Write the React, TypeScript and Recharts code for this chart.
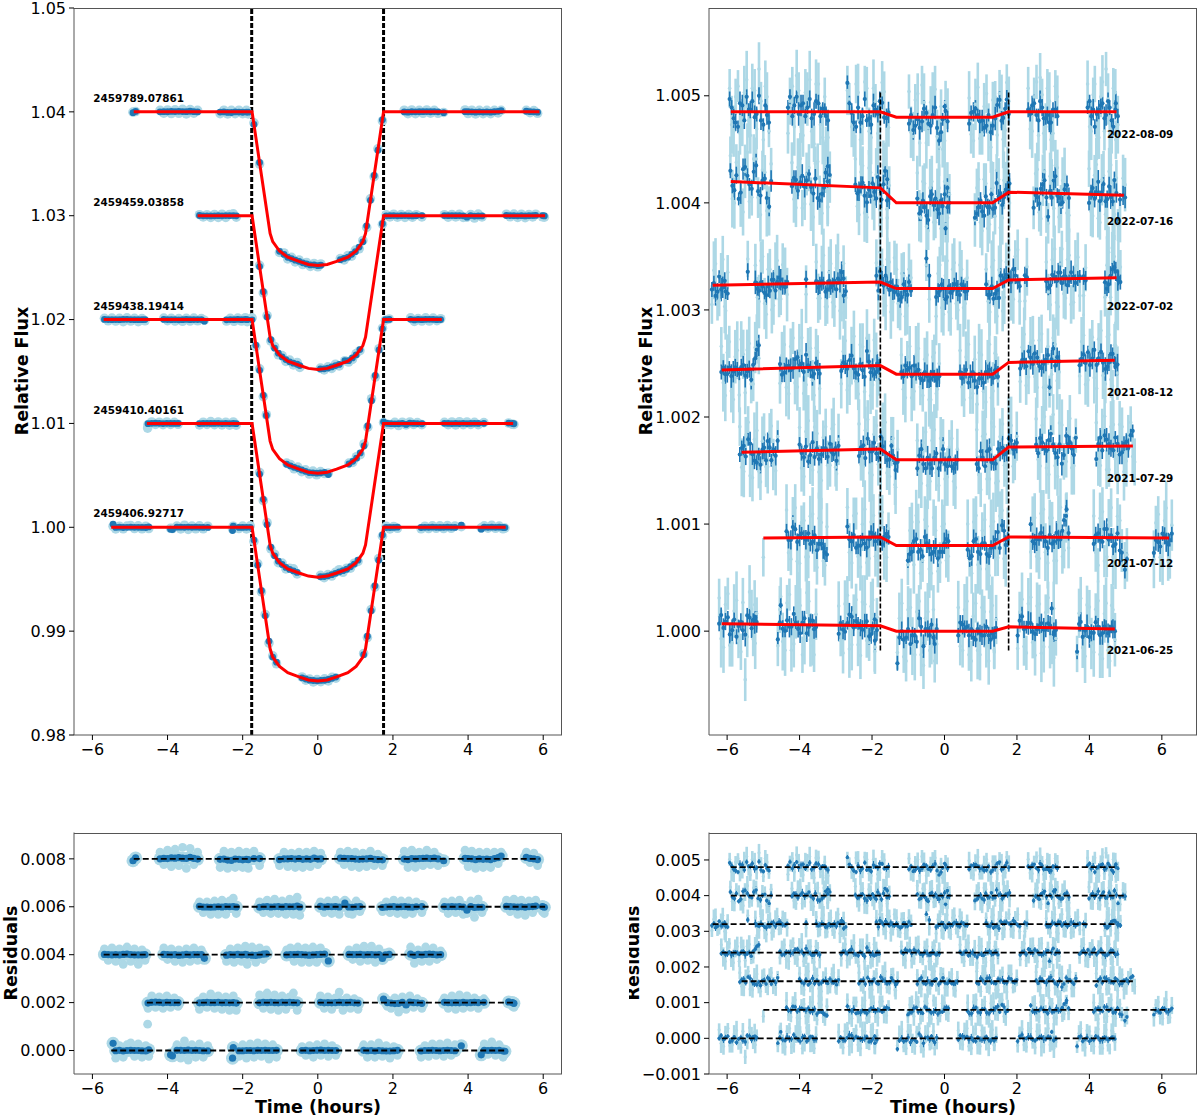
// Transit light curves: flux and residual panels
import { ComposedChart, XAxis, YAxis, Scatter, ErrorBar, ReferenceLine, ReferenceDot } from 'recharts';

const BLUE = '#1f77b4';
const LIGHT = '#add8e6';
const FONT = '"DejaVu Sans", sans-serif';

const xTicks = [-6, -4, -2, 0, 2, 4, 6];
const leftFluxTicks = [0.98, 0.99, 1.0, 1.01, 1.02, 1.03, 1.04, 1.05];
const leftResidTicks = [0, 0.002, 0.004, 0.006, 0.008];
const rightFluxTicks = [1.0, 1.001, 1.002, 1.003, 1.004, 1.005];
const rightResidTicks = [-0.001, 0, 0.001, 0.002, 0.003, 0.004, 0.005];

const leftDates = ['2459789.07861', '2459459.03858', '2459438.19414', '2459410.40161', '2459406.92717'];
const leftFluxLevels = [1.04, 1.03, 1.02, 1.01, 1.0];
const leftResidLevels = [0.008, 0.006, 0.004, 0.002, 0];
const leftSpans = [[-4.9, 5.9], [-3.2, 6.05], [-5.7, 3.3], [-4.55, 5.2], [-5.5, 5.0]];

const depthTimes = [-1.75, -1.5, -1.27, -1.2, -1.02, -0.8, -0.5, -0.25, 0, 0.25, 0.5, 0.8, 1.02, 1.2, 1.27, 1.5, 1.75];
const depthValues = [0, -0.0061, -0.0117, -0.0125, -0.0134, -0.014, -0.0144, -0.0147, -0.0148, -0.0147, -0.0144, -0.014, -0.0134, -0.0125, -0.0117, -0.0061, 0];

// [time, binned residual (1e-5), unbinned residual (2e-5)]
const left0 = [
  [-4.92,-8,-3],[-4.85,4,3],
  [-4.2,0,14],[-4.1,2,-12],[-4.0,1,18],[-3.9,4,-16],[-3.8,3,20],[-3.7,5,-14],[-3.6,3,24],[-3.5,2,-20],[-3.4,6,22],[-3.3,2,-12],[-3.2,-1,14],
  [-2.6,-2,-18],[-2.5,-1,16],[-2.4,-5,-20],[-2.3,-6,14],[-2.2,-1,-18],[-2.1,-2,16],[-2.0,-4,-18],[-1.9,-2,14],[-1.85,-3,-20],[-1.7,1,16],[-1.55,1,-14],
  [-1.02,-3,-14],[-0.9,0,14],[-0.8,0,-16],[-0.7,1,12],[-0.6,-1,-18],[-0.5,1,14],[-0.4,-2,-18],[-0.3,0,14],[-0.2,-2,-16],[-0.1,3,16],[0.0,-1,-12],[0.08,0,12],
  [0.6,3,14],[0.7,2,-12],[0.8,1,16],[0.9,1,-16],[1.0,-1,14],[1.1,-2,-18],[1.2,-1,12],[1.3,0,-16],[1.4,2,16],[1.5,-2,-14],[1.6,-3,10],[1.72,-4,-14],
  [2.3,-1,16],[2.4,-3,-18],[2.5,1,18],[2.6,0,-18],[2.7,1,14],[2.8,2,-14],[2.9,3,18],[3.0,1,-12],[3.1,3,14],[3.2,0,-14],[3.35,-8,-6],
  [3.92,2,18],[4.0,1,-16],[4.1,0,16],[4.2,-3,-20],[4.3,0,14],[4.4,-2,-18],[4.5,-1,14],[4.6,-3,-18],[4.7,1,14],[4.8,5,-10],[4.88,12,14],
  [5.55,6,14],[5.65,2,-8],[5.75,0,12],[5.85,-3,-14],
];
const left1 = [
  [-3.15,2,10],[-3.05,-1,-12],[-2.95,-1,10],[-2.85,-2,-16],[-2.75,-1,12],[-2.65,0,-16],[-2.55,-1,14],[-2.45,1,-16],[-2.35,0,12],[-2.25,1,18],[-2.17,-1,-14],
  [-1.55,-2,10],[-1.45,0,-12],[-1.35,1,14],[-1.25,-1,-14],[-1.15,0,16],[-1.05,1,-14],[-0.95,-1,12],[-0.85,1,-16],[-0.75,0,16],[-0.65,0,-16],[-0.55,3,20],[-0.48,-1,-18],
  [0.07,2,10],[0.17,-1,-12],[0.27,1,12],[0.37,0,-14],[0.47,1,14],[0.57,-1,-16],[0.72,15,14],[0.82,-1,-14],[0.92,-2,-16],[1.02,0,12],[1.12,1,-10],
  [1.72,-3,-10],[1.82,-1,10],[1.92,0,-12],[2.02,1,14],[2.12,-1,-14],[2.22,0,12],[2.32,1,-16],[2.42,-1,12],[2.52,-2,-14],[2.62,0,10],[2.77,1,-12],
  [3.37,1,10],[3.47,0,-14],[3.57,1,12],[3.67,0,-12],[3.77,1,14],[3.87,-1,-16],[3.97,-14,-14],[4.07,1,12],[4.17,-3,-22],[4.27,-2,16],[4.37,-2,-12],
  [5.02,2,14],[5.12,1,-10],[5.22,0,16],[5.32,-1,-16],[5.42,0,14],[5.52,-2,-18],[5.62,0,12],[5.72,1,-12],[5.8,3,14],[5.98,1,-10],[6.03,-2,-14],
];
const left2 = [
  [-5.68,1,12],[-5.58,0,-12],[-5.48,-1,14],[-5.38,0,-14],[-5.28,-1,12],[-5.18,1,-20],[-5.08,2,16],[-4.98,0,-14],[-4.88,-1,12],[-4.78,-1,-20],[-4.68,-1,10],[-4.6,0,-12],
  [-4.1,1,14],[-4.0,0,-10],[-3.9,-1,12],[-3.8,0,-14],[-3.7,-2,10],[-3.6,-1,-16],[-3.5,1,12],[-3.4,-1,-14],[-3.3,0,14],[-3.2,0,-12],[-3.1,0,10],[-3.02,-15,-6],
  [-2.43,-2,-14],[-2.33,0,12],[-2.23,-1,-16],[-2.13,1,14],[-2.03,-1,-14],[-1.93,1,18],[-1.88,-1,-20],[-1.75,-2,16],[-1.65,-3,-16],[-1.55,-1,14],[-1.45,2,-10],[-1.37,3,10],
  [-0.83,-1,10],[-0.73,0,14],[-0.63,0,-14],[-0.53,1,16],[-0.43,0,-16],[-0.33,-1,14],[-0.23,-2,-16],[-0.13,-1,16],[-0.03,0,-16],[0.07,1,14],[0.18,2,-10],[0.28,-26,-12],
  [0.83,1,10],[0.93,0,-10],[1.03,0,14],[1.13,1,-14],[1.23,-1,18],[1.33,0,-12],[1.43,0,18],[1.53,-1,-16],[1.63,0,12],[1.72,-16,-10],[1.8,-1,-6],[1.9,1,6],
  [2.47,2,16],[2.57,-3,-18],[2.67,1,10],[2.77,-1,-14],[2.87,1,16],[2.97,2,-14],[3.07,1,14],[3.17,-1,-10],[3.27,0,8],
];
const left3 = [
  [-4.52,-2,-12],[-4.53,null,-45],[-4.42,1,14],[-4.32,2,-10],[-4.22,1,12],[-4.12,-1,-12],[-4.02,1,14],[-3.92,0,-10],[-3.82,0,10],[-3.72,0,-8],
  [-3.15,-1,-14],[-3.05,0,12],[-2.95,1,-10],[-2.85,0,18],[-2.75,0,-12],[-2.65,1,14],[-2.55,-1,-14],[-2.45,0,12],[-2.35,-1,-16],[-2.25,0,14],[-2.17,-2,-16],
  [-1.55,-1,16],[-1.45,1,-12],[-1.35,0,20],[-1.25,1,-14],[-1.15,0,16],[-1.05,-1,-16],[-0.95,1,14],[-0.85,0,-14],[-0.75,1,12],[-0.65,0,20],[-0.55,-1,-16],
  [0.07,1,14],[0.17,-1,-12],[0.27,0,12],[0.37,-1,-14],[0.47,0,10],[0.57,1,22],[0.67,0,-16],[0.77,0,10],[0.87,1,-12],[0.97,-1,8],[1.07,-2,-14],
  [1.75,15,8],[1.85,0,-8],[1.95,-2,-12],[2.05,-4,10],[2.15,-3,-20],[2.25,1,12],[2.35,-10,-14],[2.45,2,14],[2.55,0,-10],[2.65,-1,8],[2.77,-3,-12],
  [3.37,1,10],[3.47,0,-12],[3.57,-1,14],[3.67,0,-14],[3.77,-1,16],[3.87,1,-12],[3.97,-1,14],[4.07,0,-10],[4.17,1,10],[4.27,0,-12],[4.42,1,8],
  [5.08,3,4],[5.18,0,-8],[5.22,-3,-10],
];
const left4 = [
  [-5.45,30,10],[-5.38,-1,-16],[-5.28,1,10],[-5.18,-2,-14],[-5.08,0,12],[-4.98,1,16],[-4.88,0,-12],[-4.78,0,14],[-4.68,-1,-14],[-4.58,-2,10],[-4.5,3,-12],
  [-3.92,-18,-10],[-3.87,-22,-12],[-3.75,1,12],[-3.65,1,-16],[-3.55,0,20],[-3.45,2,-20],[-3.35,0,12],[-3.25,1,-14],[-3.15,0,14],[-3.05,-1,-14],[-2.93,-1,10],
  [-2.25,12,10],[-2.27,-32,-16],[-2.1,-1,-12],[-2.0,-1,12],[-1.9,0,-16],[-1.8,0,14],[-1.7,-1,-14],[-1.6,1,16],[-1.5,0,-12],[-1.4,1,14],[-1.3,0,-18],[-1.2,0,12],[-1.1,1,-14],
  [-0.42,0,8],[-0.32,1,-10],[-0.22,-1,10],[-0.12,0,-14],[-0.02,1,12],[0.08,2,-10],[0.18,0,14],[0.28,1,-12],[0.38,0,10],[0.48,0,-10],
  [1.22,1,12],[1.32,-1,-14],[1.42,0,12],[1.52,-2,-14],[1.62,0,16],[1.72,-1,-12],[1.82,-2,10],[1.92,-2,-16],[2.02,-1,8],[2.12,1,-10],
  [2.75,-2,-14],[2.85,0,10],[2.95,0,-12],[3.05,1,14],[3.15,0,-10],[3.25,-1,14],[3.35,0,-12],[3.45,1,16],[3.55,0,-10],[3.65,-1,12],[3.82,20,6],
  [4.35,-18,-6],[4.43,1,14],[4.53,0,-8],[4.63,1,18],[4.73,0,-10],[4.83,1,12],[4.93,-2,-14],[4.98,-3,-8],
];
const leftRows = [left0, left1, left2, left3, left4];

const rightDates = ['2022-08-09', '2022-07-16', '2022-07-02', '2021-08-12', '2021-07-29', '2021-07-12', '2021-06-25'];
const rightDateLevels = [1.00464, 1.00383, 1.00303, 1.00223, 1.00143, 1.00063, 0.99982];
const rightResidLevels = [0.0048, 0.004, 0.0032, 0.0024, 0.0016, 0.0008, 0];
const rightSpans = [[-5.9, 4.75], [-5.9, 4.95], [-6.4, 4.75], [-6.15, 4.7], [-5.6, 5.2], [-5.0, 6.2], [-6.15, 4.7]];

// flux model knots for each epoch
const modelTimes = [-1.77, -1.33, 1.33, 1.77];
const rightModels = [
  { start: 1.00485, pre: 1.00485, low: 1.0048, post: 1.00485, end: 1.00485 },
  { start: 1.0042, pre: 1.00414, low: 1.004, post: 1.0041, end: 1.00407 },
  { start: 1.00323, pre: 1.00326, low: 1.0032, post: 1.00328, end: 1.0033 },
  { start: 1.00244, pre: 1.00248, low: 1.0024, post: 1.00251, end: 1.00253 },
  { start: 1.00167, pre: 1.0017, low: 1.0016, post: 1.00172, end: 1.00173 },
  { start: 1.00087, pre: 1.00088, low: 1.0008, post: 1.00088, end: 1.00087 },
  { start: 1.00007, pre: 1.00005, low: 1.0, post: 1.00004, end: 1.00002 },
];

// [time, binned residual, unbinned residual] in units of 1e-5
const right0 = [
  [-5.93,12,22],[-5.82,-6,-18],[-5.7,-14,24],[-5.58,6,-10],[-5.46,14,30],[-5.36,2,-22],[-5.24,-5,20],[-5.12,15,40],[-5.0,-12,-26],[-4.9,-3,14],
  [-4.32,4,-20],[-4.2,-4,24],[-4.08,14,34],[-3.96,6,-14],[-3.84,-4,18],[-3.72,12,30],[-3.6,-2,-30],[-3.48,8,26],[-3.36,3,-24],[-3.27,-4,-30],
  [-2.68,27,20],[-2.56,-1,-14],[-2.44,-14,26],[-2.32,-10,-26],[-2.2,12,28],[-2.08,-6,-18],[-1.96,6,22],[-1.84,-2,-20],[-1.72,9,28],[-1.6,-4,-28],
  [-0.98,-6,24],[-0.86,-12,-18],[-0.74,-2,22],[-0.62,-4,30],[-0.5,4,-24],[-0.38,-8,14],[-0.26,9,26],[-0.15,-22,-28],[-0.05,-2,-30],[0.03,6,14],
  [0.68,-6,18],[0.8,5,-22],[0.92,2,28],[1.04,-3,-16],[1.16,-8,22],[1.28,-14,-28],[1.4,-2,18],[1.52,14,20],[1.62,-4,-24],[1.72,12,28],
  [2.31,2,22],[2.42,6,-18],[2.54,-3,28],[2.64,10,32],[2.74,-6,-20],[2.84,-3,22],[2.94,-10,-26],[3.06,2,24],
  [3.95,4,26],[4.05,-4,-18],[4.15,-14,26],[4.26,2,-24],[4.36,8,28],[4.46,-3,40],[4.56,4,-22],[4.66,-14,22],[4.73,8,-26],
];
const right0Mid = [
  [4,-12],[-10,14],[8,-20],[-8,18],[2,-8],[10,22],[-2,-16],[-8,10],[6,24],[-10,-18],
  [14,10],[6,-14],[-2,20],[8,-22],[4,12],[-6,-18],[10,26],[-4,-12],[2,14],[-8,-24],
  [8,12],[-10,-20],[4,18],[-4,-14],[-8,22],[-12,-24],[2,10],[10,-16],[-4,20],[2,-12],
  [2,-14],[-8,16],[-10,-24],[8,14],[-6,-10],[2,22],[-10,-18],[-14,10],[10,-22],[-4,8],
  [4,-16],[8,12],[-4,-20],[-10,10],[2,-14],[-8,16],[10,-18],[-6,12],[4,-16],[-2,10],
  [-2,-16],[8,14],[-8,-22],[4,16],[-6,-14],[-10,10],[2,-20],[-4,14],
  [10,-14],[2,16],[-2,-22],[6,14],[-6,-18],[10,12],[-8,-24],[2,18],[-4,-12],
];
const right1 = [
  [-5.91,10,24],[-5.8,-8,-20],[-5.68,-16,14],[-5.56,12,-28],[-5.44,6,28],[-5.32,-6,-14],[-5.2,16,22],[-5.08,-12,-30],[-4.96,4,10],[-4.84,-22,-26],
  [-4.21,-2,20],[-4.1,4,-22],[-3.98,2,24],[-3.86,-2,-18],[-3.74,10,16],[-3.62,-8,-30],[-3.5,-12,22],[-3.38,-8,-26],[-3.28,12,18],[-3.22,18,-20],
  [-2.46,2,26],[-2.36,-4,-26],[-2.26,4,20],[-2.14,-14,-28],[-2.04,-8,14],[-1.94,-4,-18],[-1.84,10,24],[-1.74,-10,-28],[-1.64,20,26],[-1.58,14,-22],
  [-0.75,4,28],[-0.65,-8,-14],[-0.55,-4,18],[-0.45,-16,-26],[-0.35,8,20],[-0.25,4,-18],[-0.15,-10,14],[-0.05,-3,-28],[0.03,-24,-20],[0.08,14,18],
  [0.84,-14,-16],[0.94,-4,22],[1.04,-8,-26],[1.14,6,18],[1.24,-4,-20],[1.34,-6,14],[1.44,16,28],[1.54,4,-28],[1.64,-2,14],[1.74,2,26],
  [2.46,-14,-14],[2.56,-4,22],[2.66,4,-24],[2.76,12,20],[2.86,-22,-28],[2.96,-4,14],[3.06,16,26],[3.16,-4,-22],[3.26,-8,12],[3.38,8,-18],
  [3.99,-8,24],[4.09,6,-20],[4.19,2,28],[4.29,-6,-26],[4.39,10,18],[4.49,-4,-22],[4.59,-2,28],[4.69,14,-18],[4.79,-22,-28],[4.93,0,16],
];
const right1Mid = [
  [-4,-16],[6,18],[-10,-22],[14,10],[-2,-18],[10,22],[-8,-14],[2,12],[-14,-26],[2,18],
  [6,-14],[-6,16],[8,-22],[4,10],[-2,-18],[6,20],[-14,-14],[-2,22],[4,-20],[10,8],
  [-6,-18],[2,14],[-8,-24],[-2,18],[4,-10],[-10,12],[2,-20],[6,24],[-6,-14],[-2,10],
  [-10,-12],[2,20],[-12,-22],[6,14],[-2,-18],[-6,12],[2,-24],[8,20],[-4,-14],[0,8],
  [-10,14],[2,-18],[-12,22],[-4,-24],[8,12],[-6,-14],[2,18],[-8,-20],[4,14],[8,-10],
  [-2,18],[-10,-18],[8,12],[-4,-22],[2,16],[12,-14],[-2,24],[-10,-12],[4,18],[-4,-20],
  [2,-16],[-4,18],[12,-22],[2,14],[-6,-18],[8,22],[-6,-12],[2,16],[-4,-24],[-2,10],
];
const right2 = [
  [-6.42,-4,-18],[-6.32,-10,20],[-6.22,8,-14],[-6.12,-2,24],[-6.04,-6,-24],
  [-5.43,12,24],[-5.22,2,18],[-5.12,-6,-16],[-5.02,-2,26],[-4.92,-10,-28],[-4.82,-6,14],[-4.72,4,-20],[-4.62,2,22],[-4.52,4,-14],[-4.4,-3,12],
  [-3.82,4,-10],[-3.54,2,20],[-3.44,-2,-14],[-3.34,0,26],[-3.24,-6,-22],[-3.14,-4,18],[-3.04,2,-22],[-2.94,4,28],[-2.84,10,-12],[-2.78,-12,-28],
  [-1.88,6,18],[-1.78,10,28],[-1.68,-2,-14],[-1.58,2,24],[-1.48,4,-24],[-1.38,-4,28],[-1.28,-6,-14],[-1.18,-8,14],[-1.08,-2,-26],[-0.98,6,18],
  [-0.5,28,22],[-0.42,12,-10],[-0.23,-8,-26],[-0.13,-2,22],[-0.03,0,-24],[0.07,-8,26],[0.17,-4,-28],[0.27,4,24],[0.37,-2,-20],[0.47,4,18],[0.57,-3,-14],
  [1.15,4,18],[1.25,-6,-22],[1.35,-10,26],[1.45,-4,-28],[1.55,8,22],[1.65,4,-14],[1.78,2,28],[1.9,10,-18],[2.02,-2,28],[2.22,4,-20],
  [2.81,-2,16],[2.92,-6,-24],[3.04,2,28],[3.14,6,-26],[3.24,-4,28],[3.34,2,-18],[3.44,-2,22],[3.56,2,-22],[3.68,0,20],[3.84,2,-16],
  [4.43,-4,-18],[4.53,-6,24],[4.63,8,28],[4.73,6,-26],[4.8,0,16],
];
const right2Mid = [
  [2,14],[-6,-16],[-4,10],[4,-20],[-8,12],
  null,[-4,-12],[2,22],[-8,-18],[-2,14],[4,-24],[-6,12],[6,-14],[-2,18],[2,-10],
  null,[-4,-14],[2,16],[-8,-22],[2,10],[-2,-18],[-6,14],[2,-26],[4,18],[-8,-14],
  [-8,-10],[4,16],[8,-20],[-4,22],[-2,-14],[2,18],[-10,-24],[4,12],[-6,-16],[-2,10],
  null,null,[-4,14],[4,-18],[-10,12],[2,-22],[-2,18],[4,-14],[-6,22],[2,-18],[-2,10],
  [-6,-12],[2,20],[-6,-18],[-12,14],[2,-26],[6,18],[-2,-14],[4,22],[-6,-20],[2,12],
  [-8,-12],[4,18],[-2,-22],[6,14],[2,-14],[-6,18],[6,-24],[-4,12],[2,-16],[-2,10],
  [-10,12],[2,-18],[10,20],[-2,-24],[-4,10],
];
const right3 = [
  [-6.16,-2,22],[-6.05,-4,-24],[-5.94,2,26],[-5.83,-2,-28],[-5.72,0,18],[-5.61,2,28],[-5.5,-6,-22],[-5.39,0,24],[-5.28,4,-14],[-5.18,18,28],
  [-4.54,4,-14],[-4.42,-4,22],[-4.3,2,-24],[-4.18,0,28],[-4.06,10,-18],[-3.94,4,28],[-3.82,12,-16],[-3.7,-2,18],[-3.6,-6,-26],[-3.5,-2,14],
  [-2.85,-4,-16],[-2.74,2,24],[-2.62,6,-18],[-2.5,-2,28],[-2.38,-8,-26],[-2.26,-4,18],[-2.14,14,26],[-2.04,-6,-28],[-1.94,-8,24],[-1.86,2,-14],
  [-1.19,2,18],[-1.08,8,-22],[-0.96,6,26],[-0.84,8,-16],[-0.72,4,24],[-0.6,-6,-20],[-0.48,-2,18],[-0.38,-4,-24],[-0.28,-2,20],[-0.2,-4,-14],
  [0.43,2,22],[0.54,0,-24],[0.66,-8,28],[0.78,2,-18],[0.9,-12,-28],[1.02,-4,18],[1.14,2,-26],[1.24,4,28],[1.34,-4,-16],[1.42,2,16],
  [2.09,-6,-18],[2.2,2,26],[2.32,10,-14],[2.44,-2,20],[2.56,4,-24],[2.68,-6,26],[2.8,2,-22],[2.9,-24,-28],[3.0,12,22],[3.11,4,-18],
  [3.73,-4,-14],[3.84,6,24],[3.96,8,-18],[4.08,2,22],[4.2,-4,-26],[4.32,8,28],[4.44,-8,-22],[4.54,-2,24],[4.64,6,-24],[4.72,-6,14],
];
const right3Mid = [
  [2,-12],[-4,16],[-6,-20],[2,12],[-4,-24],[4,14],[-2,18],[-10,-14],[10,20],[22,10],
  [-6,12],[2,-18],[-2,20],[8,-14],[2,16],[-4,-24],[2,14],[-8,-12],[4,18],[-6,-20],
  [4,14],[-2,-22],[10,10],[-6,-14],[2,20],[-10,-24],[4,14],[-2,-18],[-6,12],[-4,-10],
  [-2,-14],[4,16],[-2,-22],[2,18],[-4,-12],[2,14],[-6,-24],[2,16],[-6,-18],[-2,10],
  [-4,-12],[4,16],[-2,-22],[-6,14],[-4,20],[-8,-16],[2,12],[-2,-22],[2,18],[-6,-10],
  [2,14],[-4,-22],[4,18],[8,-14],[-4,20],[-2,-24],[6,14],[2,-12],[-4,16],[0,-10],
  [2,18],[-2,-22],[-4,12],[10,-16],[2,20],[-2,-14],[-6,22],[6,-18],[-2,14],[-4,-12],
];
const right4 = [
  [-5.65,-2,24],[-5.54,6,-18],[-5.42,12,28],[-5.3,-2,-24],[-5.18,-10,20],[-5.08,-12,-28],[-4.98,4,16],[-4.88,10,-14],[-4.78,-8,24],[-4.66,-4,-18],
  [-4.0,6,22],[-3.88,-6,-24],[-3.76,-10,28],[-3.64,8,-18],[-3.52,2,16],[-3.4,-4,-28],[-3.28,2,22],[-3.16,6,-14],[-3.06,-4,24],[-2.98,-10,-22],
  [-2.36,-6,24],[-2.24,4,-16],[-2.12,10,28],[-2.0,-2,-24],[-1.88,-4,22],[-1.76,12,-18],[-1.64,0,28],[-1.52,-4,-20],[-1.42,2,18],[-1.35,-10,-26],
  [-0.75,-8,18],[-0.64,10,-22],[-0.52,-8,26],[-0.4,-4,-20],[-0.28,2,28],[-0.16,-8,-24],[-0.04,10,16],[0.08,-6,-16],[0.2,-6,20],[0.3,-4,-26],
  [0.89,-4,28],[1.0,8,-28],[1.12,-6,24],[1.24,10,-18],[1.36,-4,30],[1.48,6,-24],[1.6,4,26],[1.72,-4,-30],[1.84,6,20],[1.94,-2,-14],
  [2.53,2,26],[2.64,8,-18],[2.76,-2,28],[2.88,6,-26],[3.0,2,30],[3.12,-10,-28],[3.24,-16,20],[3.36,10,-14],[3.46,4,26],[3.57,-8,-18],
  [4.19,-12,22],[4.3,8,-18],[4.42,10,28],[4.54,2,-22],[4.66,-4,20],[4.78,2,-26],[4.9,-6,18],[5.02,4,-14],[5.14,10,22],[5.25,null,-15],
];
const right4Mid = [
  [4,-14],[-4,16],[8,-22],[-8,12],[-2,-18],[2,10],[-8,-14],[4,18],[2,-12],[10,14],
  [-2,-16],[4,18],[-4,-14],[-6,22],[-8,-20],[2,12],[-6,-14],[-2,20],[2,-16],[4,10],
  [2,-14],[-8,18],[-2,-22],[6,14],[-8,-14],[4,20],[-6,-18],[10,14],[-4,-24],[-2,10],
  [4,-12],[-4,16],[2,-24],[-8,18],[6,-12],[-2,20],[-4,-18],[2,12],[-8,-20],[0,10],
  [-8,-14],[2,22],[8,-18],[-2,14],[-6,-24],[2,16],[-4,-14],[8,22],[-2,-18],[4,10],
  [-6,-12],[4,20],[-4,-20],[12,14],[-6,-18],[2,22],[-8,-14],[2,14],[-2,-20],[8,10],
  [2,-14],[-4,16],[6,-22],[-2,18],[8,-12],[-8,20],[2,-24],[-2,12],[14,-10],null,
];
const right5 = [
  [-5.0,null,-18],
  [-4.36,6,26],[-4.24,-2,-20],[-4.12,8,28],[-4.0,2,-24],[-3.88,0,16],[-3.76,4,-18],[-3.64,-4,22],[-3.52,-12,-28],[-3.4,-6,14],[-3.3,-14,-26],
  [-2.68,10,28],[-2.56,-4,-24],[-2.44,-10,22],[-2.32,-8,-28],[-2.2,-6,26],[-2.08,-2,-20],[-1.96,2,20],[-1.84,0,-22],[-1.72,-6,24],[-1.6,6,-16],
  [-1.01,-14,-18],[-0.9,-6,22],[-0.78,6,28],[-0.66,-4,-26],[-0.54,8,24],[-0.42,-2,-22],[-0.3,-6,26],[-0.18,-12,-24],[-0.06,-6,18],[0.05,6,-14],
  [0.64,-4,20],[0.75,-10,-26],[0.87,6,28],[0.99,-8,-22],[1.11,2,24],[1.23,-10,-28],[1.35,-2,22],[1.47,10,-14],[1.59,14,28],[1.69,-6,-20],
  [2.38,12,-14],[2.49,-6,18],[2.61,-2,-20],[2.73,0,26],[2.85,-10,-24],[2.97,-6,18],[3.09,4,-22],[3.2,-2,28],[3.3,16,-12],[3.37,26,22],
  [4.12,-6,20],[4.24,4,-26],[4.36,-4,24],[4.48,8,-18],[4.6,2,28],[4.72,-6,-24],[4.84,-12,16],[4.98,-30,-26],
  [5.78,-14,-20],[5.9,-4,22],[6.02,4,-24],[6.12,-4,28],[6.22,-2,-22],
];
const right5Mid = [
  null,
  [-2,-14],[10,18],[-4,-22],[4,14],[-2,-18],[-6,20],[2,-14],[-6,18],[-10,-22],[-16,10],
  [-2,-14],[2,20],[-8,-18],[-2,12],[-10,-24],[4,14],[-4,-18],[-2,22],[2,-14],[4,12],
  [-8,14],[4,-18],[-6,22],[-10,-14],[2,18],[-8,-26],[-2,14],[-6,-16],[2,20],[4,-10],
  [-12,-14],[4,22],[-6,-18],[2,14],[-8,-22],[-2,18],[4,-14],[-6,24],[8,-18],[-2,10],
  [-4,14],[-2,-18],[4,22],[-4,-14],[2,18],[-4,-22],[-2,14],[6,-18],[20,18],[4,-10],
  [2,-14],[-2,18],[8,-22],[-2,14],[-8,-18],[4,20],[-14,-12],[-20,-16],
  [-2,14],[-8,-18],[2,16],[-6,-22],[4,12],
];
const right6 = [
  [-6.22,0,24],[-6.1,-4,-22],[-5.98,6,28],[-5.86,-6,-18],[-5.74,-12,22],[-5.62,2,-26],[-5.5,-10,-52],[-5.38,6,30],[-5.28,4,-14],[-5.24,0,18],
  [-4.6,-14,-20],[-4.52,18,26],[-4.4,-6,-24],[-4.28,-2,28],[-4.16,10,-18],[-4.04,-4,22],[-3.92,2,-28],[-3.8,-8,30],[-3.7,4,-14],[-3.6,-4,-28],
  [-2.92,-8,18],[-2.8,-4,-26],[-2.68,2,28],[-2.56,8,-18],[-2.44,4,24],[-2.32,-2,-28],[-2.2,0,20],[-2.08,-10,-16],[-1.98,-2,24],[-1.92,-14,-20],
  [-1.3,-30,-20],[-1.18,0,26],[-1.06,-6,-28],[-0.94,-12,22],[-0.82,-4,-22],[-0.7,12,28],[-0.58,-14,-32],[-0.46,2,18],[-0.36,6,-14],[-0.27,-12,-28],
  [0.38,-4,22],[0.5,6,-18],[0.62,4,28],[0.74,2,-28],[0.86,-8,26],[0.98,-2,-22],[1.1,-4,18],[1.22,-4,-28],[1.32,-2,24],[1.37,-6,-18],
  [2.02,-8,-20],[2.14,10,26],[2.26,0,-24],[2.38,4,28],[2.5,-6,-26],[2.62,2,22],[2.74,-2,-18],[2.86,4,28],[2.96,18,-12],[3.02,-4,-28],
  [3.66,-22,-24],[3.76,6,28],[3.88,-2,-26],[4.0,-8,20],[4.12,-4,-22],[4.24,2,26],[4.36,-4,-28],[4.46,0,24],[4.56,-2,-30],[4.65,0,18],
];
const right6Mid = [
  [8,-14],[2,18],[-10,-20],[4,12],[-2,-16],[-6,20],[8,-12],[-4,14],[6,-18],[2,10],
  [2,14],[-4,-16],[4,20],[-2,-24],[2,12],[-8,18],[6,-14],[-2,22],[4,-20],[-2,10],
  [2,-14],[-6,20],[10,-22],[-2,12],[2,-18],[-4,22],[4,-14],[-8,18],[6,-24],[-4,8],
  [-6,12],[-8,-24],[2,20],[-4,-14],[-10,18],[4,-22],[2,12],[-4,-18],[-6,20],[2,-12],
  [8,-14],[2,20],[-4,-22],[-6,14],[2,-18],[-4,22],[4,-14],[-8,18],[-2,-20],[2,10],
  [6,14],[-2,-18],[4,22],[-4,-14],[-2,20],[4,-24],[-2,14],[2,-18],[-6,18],[-2,-10],
  [4,14],[-8,-18],[2,22],[-4,-14],[6,18],[-6,-24],[2,14],[-4,-20],[2,22],[-2,-10],
];
const rightRows = [right0, right1, right2, right3, right4, right5, right6];
const rightMids = [right0Mid, right1Mid, right2Mid, right3Mid, right4Mid, right5Mid, right6Mid];

const lightErrors = [18, 24, 15, 22, 27, 17, 20, 25, 16, 23, 19];
const darkErrors = [7, 9, 6, 10, 7, 8, 11, 8, 6, 9];

const valueAt = (xs, ys, t) => {
  if (t <= xs[0]) return ys[0];
  for (let i = 1; i < xs.length; i++) {
    if (t <= xs[i]) return ys[i - 1] + ((t - xs[i - 1]) / (xs[i] - xs[i - 1])) * (ys[i] - ys[i - 1]);
  }
  return ys[ys.length - 1];
};

// table of points for one panel: base(row, t) gives the level the residual sits on
const buildPoints = (rows, base, col, unit = 1e-5) =>
  rows.flatMap((row, r) =>
    row
      .filter((p) => p[col] !== null)
      .map((p, i) => ({
        x: p[0],
        y: base(r, p[0]) + p[col] * unit,
        e: (col === 1 ? darkErrors[i % darkErrors.length] : lightErrors[i % lightErrors.length]) * 1e-5,
      }))
  );

// samples read between the listed times, half a bin later
const buildMidPoints = (base, col) =>
  rightMids.flatMap((mid, r) =>
    mid.flatMap((m, i) => {
      if (!m || !rightRows[r][i]) return [];
      const x = rightRows[r][i][0] + 0.055;
      const errs = col === 0 ? darkErrors : lightErrors;
      return [{ x, y: base(r, x) + m[col] * 1e-5, e: errs[(i + 4) % errs.length] * 1e-5 }];
    })
  );

const rightModelXs = (r) => [rightSpans[r][0], ...modelTimes, rightSpans[r][1]];
const rightModelYs = (r) => {
  const m = rightModels[r];
  return [m.start, m.pre, m.low, m.low, m.post, m.end];
};
const leftFluxBase = (r, t) => leftFluxLevels[r] + valueAt(depthTimes, depthValues, t);
const leftResidBase = (r) => leftResidLevels[r];
const rightFluxBase = (r, t) => valueAt(rightModelXs(r), rightModelYs(r), t);
const rightResidBase = (r) => rightResidLevels[r];

const leftModelLines = leftFluxLevels.map((level, r) => [
  { x: leftSpans[r][0], y: level },
  ...depthTimes.map((t, i) => ({ x: t, y: level + depthValues[i] })),
  { x: leftSpans[r][1], y: level },
]);
const rightModelLines = rightRows.map((_, r) => {
  const ys = rightModelYs(r);
  return rightModelXs(r).map((t, i) => ({ x: t, y: ys[i] }));
});
const flatLines = (levels, spans) =>
  levels.map((level, r) => [
    { x: spans[r][0], y: level },
    { x: spans[r][1], y: level },
  ]);

const xLabel = (v) => String(v).replace('-', '\u2212');
const yLabel = (digits) => (v) => v.toFixed(digits).replace('-', '\u2212');
const tickStyle = { fontSize: 16, fill: '#000', fontFamily: FONT };
const dot = (r, color) => (p) => <circle cx={p.cx} cy={p.cy} r={r} fill={color} />;
const noDot = () => null;

function Panel({ left, top, width, height, axisWidth, xDomain, yDomain, yTicks, digits, children }) {
  return (
    <div style={{ position: 'absolute', left, top }}>
      <ComposedChart width={width.total} height={height.total} margin={{ top: height.top, right: width.right, bottom: 0, left: 0 }}>
        <XAxis dataKey="x" type="number" domain={xDomain} ticks={xTicks} interval={0} allowDataOverflow height={height.axis}
          tick={tickStyle} tickLine={{ stroke: '#000' }} tickSize={5} tickMargin={4} axisLine={{ stroke: '#555' }} tickFormatter={xLabel} />
        <YAxis dataKey="y" type="number" domain={yDomain} ticks={yTicks} interval={0} allowDataOverflow width={axisWidth}
          tick={tickStyle} tickLine={{ stroke: '#000' }} tickSize={5} tickMargin={3} axisLine={{ stroke: '#555' }} tickFormatter={yLabel(digits)} />
        {children}
      </ComposedChart>
      <div style={{ position: 'absolute', left: axisWidth, top: height.top, width: width.total - axisWidth - width.right, height: height.total - height.top - height.axis, border: '1px solid #555', borderLeft: 'none', borderBottom: 'none', boxSizing: 'border-box', pointerEvents: 'none' }} />
    </div>
  );
}

function AxisTitle({ text, x, y, rotate }) {
  return (
    <div style={{ position: 'absolute', left: x, top: y, transform: `translate(-50%,-50%)${rotate ? ' rotate(-90deg)' : ''}`, fontFamily: FONT, fontWeight: 'bold', fontSize: 17.5, color: '#000', whiteSpace: 'nowrap' }}>
      {text}
    </div>
  );
}

const smallLabel = (value) => ({ value, position: 'center', fontSize: 10.4, fontWeight: 'bold', fill: '#000', fontFamily: FONT });
const modelLine = { stroke: '#ff0000', strokeWidth: 3 };
const dashLine = { stroke: '#000', strokeWidth: 1.8, strokeDasharray: '6 3' };

const leftX = [-6.49, 6.5];
const rightX = [-6.5, 6.97];
const leftW = { total: 600, right: 38 };
const rightW = { total: 580, right: 3 };
const fluxH = { total: 780, top: 8, axis: 45 };
const residH = { total: 298, top: 12.5, axis: 44 };

export default function App() {
  return (
    <div style={{ position: 'absolute', left: 0, top: 0, width: 1200, height: 1118, background: '#fff', overflow: 'hidden' }}>
      <Panel left={0} top={0} width={leftW} height={fluxH} axisWidth={74} xDomain={leftX} yDomain={[0.98, 1.05]} yTicks={leftFluxTicks} digits={2}>
        <ReferenceLine x={-1.76} stroke="#000" strokeWidth={3} strokeDasharray="5 2" />
        <ReferenceLine x={1.75} stroke="#000" strokeWidth={3} strokeDasharray="5 2" />
        <Scatter data={buildPoints(leftRows, leftFluxBase, 2)} shape={dot(4.8, LIGHT)} isAnimationActive={false} />
        <Scatter data={buildPoints(leftRows, leftFluxBase, 1)} shape={dot(3.4, BLUE)} isAnimationActive={false} />
        {leftModelLines.map((pts, i) => (
          <Scatter key={i} data={pts} line={modelLine} lineType="joint" shape={noDot} isAnimationActive={false} />
        ))}
        {leftDates.map((d, i) => (
          <ReferenceDot key={d} x={-4.77} y={leftFluxLevels[i] + 0.0013} r={0} fill="none" stroke="none" label={smallLabel(d)} />
        ))}
      </Panel>

      <Panel left={620} top={0} width={rightW} height={fluxH} axisWidth={89} xDomain={rightX} yDomain={[0.99903, 1.00582]} yTicks={rightFluxTicks} digits={3}>
        <Scatter data={buildPoints(rightRows, rightFluxBase, 2)} shape={dot(1.8, LIGHT)} isAnimationActive={false}>
          <ErrorBar dataKey="e" direction="y" width={0} stroke={LIGHT} strokeWidth={2.6} isAnimationActive={false} />
        </Scatter>
        <Scatter data={buildMidPoints(rightFluxBase, 1)} shape={dot(1.8, LIGHT)} isAnimationActive={false}>
          <ErrorBar dataKey="e" direction="y" width={0} stroke={LIGHT} strokeWidth={2.6} isAnimationActive={false} />
        </Scatter>
        <Scatter data={buildPoints(rightRows, rightFluxBase, 1)} shape={dot(2.1, BLUE)} isAnimationActive={false}>
          <ErrorBar dataKey="e" direction="y" width={0} stroke={BLUE} strokeWidth={1.6} isAnimationActive={false} />
        </Scatter>
        <Scatter data={buildMidPoints(rightFluxBase, 0)} shape={dot(2.1, BLUE)} isAnimationActive={false}>
          <ErrorBar dataKey="e" direction="y" width={0} stroke={BLUE} strokeWidth={1.6} isAnimationActive={false} />
        </Scatter>
        {[-1.77, 1.77].map((t) => (
          <Scatter key={t} data={[{ x: t, y: 1.00503 }, { x: t, y: 0.99981 }]} line={{ stroke: '#000', strokeWidth: 1.6, strokeDasharray: '5 2' }} lineType="joint" shape={noDot} isAnimationActive={false} />
        ))}
        {rightModelLines.map((pts, i) => (
          <Scatter key={i} data={pts} line={modelLine} lineType="joint" shape={noDot} isAnimationActive={false} />
        ))}
        {rightDates.map((d, i) => (
          <ReferenceDot key={d} x={5.4} y={rightDateLevels[i]} r={0} fill="none" stroke="none" label={smallLabel(d)} />
        ))}
      </Panel>

      <Panel left={0} top={820} width={leftW} height={residH} axisWidth={74} xDomain={leftX} yDomain={[-0.00098, 0.0091]} yTicks={leftResidTicks} digits={3}>
        <Scatter data={buildPoints(leftRows, leftResidBase, 2, 2e-5)} shape={dot(4.4, LIGHT)} isAnimationActive={false} />
        <Scatter data={buildPoints(leftRows, leftResidBase, 1)} shape={dot(6.5, LIGHT)} isAnimationActive={false} />
        <Scatter data={buildPoints(leftRows, leftResidBase, 1)} shape={dot(3.6, BLUE)} isAnimationActive={false} />
        {flatLines(leftResidLevels, leftSpans).map((pts, i) => (
          <Scatter key={i} data={pts} line={dashLine} lineType="joint" shape={noDot} isAnimationActive={false} />
        ))}
      </Panel>

      <Panel left={620} top={820} width={rightW} height={residH} axisWidth={89} xDomain={rightX} yDomain={[-0.001, 0.00577]} yTicks={rightResidTicks} digits={3}>
        <Scatter data={buildPoints(rightRows, rightResidBase, 2)} shape={dot(1.6, LIGHT)} isAnimationActive={false}>
          <ErrorBar dataKey="e" direction="y" width={0} stroke={LIGHT} strokeWidth={2.6} isAnimationActive={false} />
        </Scatter>
        <Scatter data={buildMidPoints(rightResidBase, 1)} shape={dot(1.6, LIGHT)} isAnimationActive={false}>
          <ErrorBar dataKey="e" direction="y" width={0} stroke={LIGHT} strokeWidth={2.6} isAnimationActive={false} />
        </Scatter>
        <Scatter data={buildPoints(rightRows, rightResidBase, 1)} shape={dot(1.8, BLUE)} isAnimationActive={false}>
          <ErrorBar dataKey="e" direction="y" width={0} stroke={BLUE} strokeWidth={1.2} isAnimationActive={false} />
        </Scatter>
        <Scatter data={buildMidPoints(rightResidBase, 0)} shape={dot(1.8, BLUE)} isAnimationActive={false}>
          <ErrorBar dataKey="e" direction="y" width={0} stroke={BLUE} strokeWidth={1.2} isAnimationActive={false} />
        </Scatter>
        {flatLines(rightResidLevels, rightSpans).map((pts, i) => (
          <Scatter key={i} data={pts} line={dashLine} lineType="joint" shape={noDot} isAnimationActive={false} />
        ))}
      </Panel>

      <AxisTitle text="Relative Flux" x={21.7} y={371} rotate />
      <AxisTitle text="Relative Flux" x={645.5} y={371} rotate />
      <AxisTitle text="Residuals" x={11.3} y={953} rotate />
      <div style={{ position: 'absolute', left: 628.5, top: 890, width: 30, height: 130, overflow: 'hidden' }}>
        <AxisTitle text="Residuals" x={4.2} y={63} rotate />
      </div>
      <AxisTitle text="Time (hours)" x={318} y={1107} />
      <AxisTitle text="Time (hours)" x={953} y={1107} />
    </div>
  );
}
